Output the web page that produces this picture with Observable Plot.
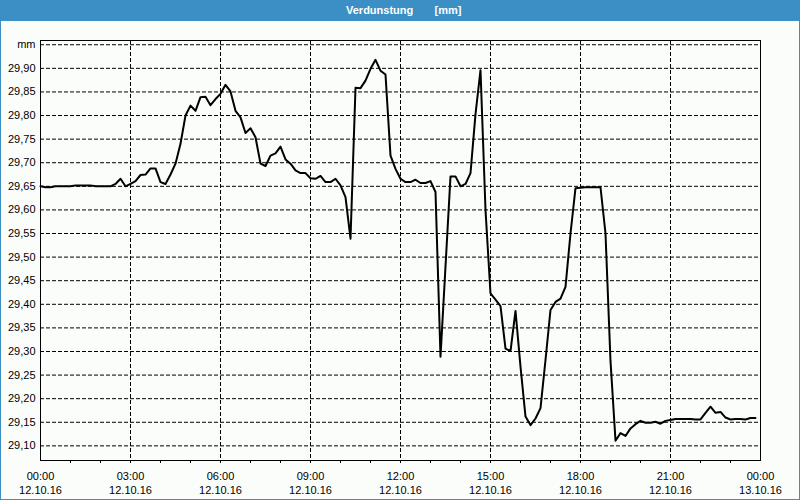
<!DOCTYPE html>
<html>
<head>
<meta charset="utf-8">
<script src="https://cdn.jsdelivr.net/npm/d3@7"></script>
<script src="https://cdn.jsdelivr.net/npm/@observablehq/plot@0.6"></script>
<style>
  html, body { margin: 0; padding: 0; background: #ffffff; }
  #wrap {
    width: 800px; height: 500px; box-sizing: border-box;
    border: 1px solid #3c8fc5; border-top: none;
    background: #fbfdfb; position: relative; overflow: hidden;
  }
  #title {
    height: 21px; background: #3c8fc5; color: #ffffff;
    font: bold 11px "Liberation Sans", Arial, sans-serif;
    line-height: 21px; white-space: pre; padding-left: 346px;
    margin: 0 -1px;
  }
  #chart svg { display: block; }
</style>
</head>
<body>
<div id="wrap">
  <div id="title">Verdunstung       [mm]</div>
  <div id="chart"></div>
</div>
<script>
// Series: Verdunstung [mm], sampled every 10 minutes from 12.10.16 00:00
const startTime = Date.UTC(2016, 9, 12, 0, 0);
const endTime = Date.UTC(2016, 9, 13, 0, 0);
const stepMinutes = 10;
const values = [
  29.650, 29.648, 29.648, 29.650, 29.650, 29.650, 29.650, 29.652, 29.652, 29.652,
  29.652, 29.650, 29.650, 29.650, 29.650, 29.655, 29.666, 29.650, 29.655, 29.661,
  29.674, 29.675, 29.688, 29.688, 29.659, 29.655, 29.675, 29.698, 29.740, 29.800,
  29.821, 29.810, 29.839, 29.840, 29.822, 29.835, 29.846, 29.865, 29.851, 29.810,
  29.796, 29.763, 29.773, 29.754, 29.698, 29.693, 29.715, 29.720, 29.734, 29.707,
  29.698, 29.684, 29.678, 29.678, 29.667, 29.666, 29.672, 29.659, 29.659, 29.666,
  29.652, 29.627, 29.539, 29.859, 29.858, 29.874, 29.899, 29.918, 29.895, 29.887,
  29.715, 29.687, 29.666, 29.659, 29.659, 29.664, 29.657, 29.657, 29.661, 29.638,
  29.289, 29.480, 29.671, 29.671, 29.650, 29.655, 29.678, 29.803, 29.896, 29.600,
  29.423, 29.410, 29.396, 29.306, 29.301, 29.386, 29.268, 29.162, 29.144, 29.158,
  29.180, 29.282, 29.388, 29.405, 29.412, 29.437, 29.550, 29.646, 29.647, 29.648,
  29.648, 29.648, 29.648, 29.550, 29.280, 29.111, 29.127, 29.121, 29.137, 29.146,
  29.153, 29.149, 29.149, 29.151, 29.147, 29.153, 29.155, 29.157, 29.157, 29.157,
  29.157, 29.156, 29.156, 29.170, 29.183, 29.170, 29.172, 29.160, 29.156, 29.157,
  29.157, 29.156, 29.159, 29.159
];
const yTicks = [29.10, 29.15, 29.20, 29.25, 29.30, 29.35, 29.40, 29.45, 29.50,
                29.55, 29.60, 29.65, 29.70, 29.75, 29.80, 29.85, 29.90, 29.95];
const yUnitTick = 29.95;
const yUnitLabel = "mm";
const xLabelHours = [0, 3, 6, 9, 12, 15, 18, 21, 24];
const xGridHours = [3, 6, 9, 12, 15, 18, 21];
const xMinorHours = [1, 2, 3, 4, 5, 6, 7, 8, 9, 10, 11, 12, 13, 14, 15, 16, 17, 18, 19, 20, 21, 22, 23];

const data = values.map((v, i) => ({ time: new Date(startTime + i * stepMinutes * 60000), value: v }));
const hourDate = h => new Date(startTime + h * 3600000);
const fmtTime = d3.utcFormat("%H:%M");
const fmtDate = d3.utcFormat("%d.%m.%y");
const fmtVal = d3.format(".2f");

const chart = Plot.plot({
  width: 798,
  height: 478,
  marginLeft: 39,
  marginRight: 39,
  marginTop: 19,
  marginBottom: 39,
  style: { background: "transparent", color: "#000", fontFamily: "Liberation Sans, Arial, sans-serif", fontSize: "11px" },
  x: { type: "utc", domain: [new Date(startTime), new Date(endTime)], label: null },
  y: { domain: [29.069, 29.959], label: null },
  marks: [
    Plot.gridY(yTicks, { stroke: "#000", strokeOpacity: 1, strokeDasharray: "4,2" }),
    Plot.gridX(xGridHours.map(hourDate), { stroke: "#000", strokeOpacity: 1, strokeDasharray: "4,2" }),
    Plot.frame({ stroke: "#000" }),
    Plot.axisY(yTicks, {
      tickSize: 0, tickPadding: 5, fontSize: 11,
      tickFormat: v => Math.abs(v - yUnitTick) < 1e-9 ? yUnitLabel : fmtVal(v).replace(".", ",")
    }),
    Plot.axisX(xMinorHours.map(hourDate), { tickSize: 3, tickFormat: () => "", stroke: "#000" }),
    Plot.axisX(xLabelHours.map(hourDate), {
      tickSize: 0, tickPadding: 9, fontSize: 11, lineHeight: 1.3,
      tickFormat: d => fmtTime(d) + "\n" + fmtDate(d)
    }),
    Plot.line(data, { x: "time", y: "value", stroke: "#000", strokeWidth: 2 })
  ]
});
document.getElementById("chart").appendChild(chart);
</script>
</body>
</html>
